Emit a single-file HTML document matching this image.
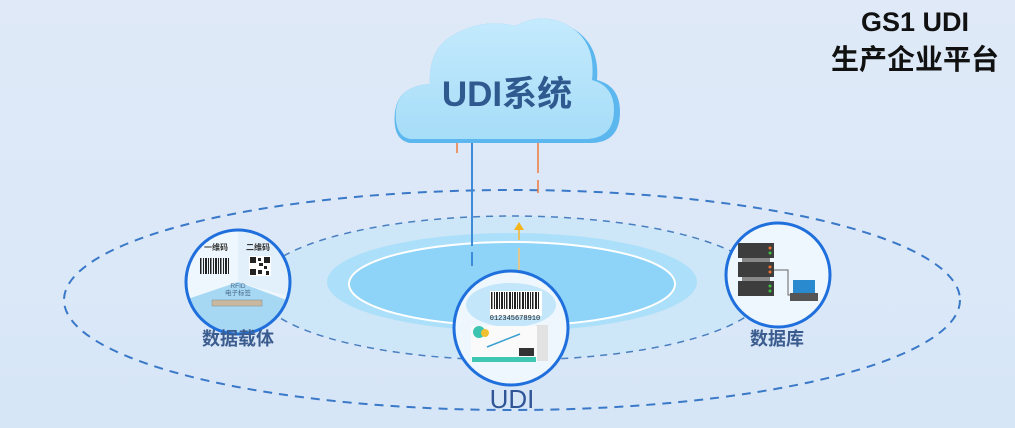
<!DOCTYPE html>
<html><head><meta charset="utf-8"><style>
html,body{margin:0;padding:0;}
body{width:1015px;height:428px;overflow:hidden;background:linear-gradient(180deg,#dfe9f8 0%,#dbe8f8 60%,#d6e6f7 100%);font-family:"Liberation Sans","Noto Sans CJK SC",sans-serif;}
</style></head><body>
<svg width="1015" height="428" viewBox="0 0 1015 428" xmlns="http://www.w3.org/2000/svg" style="position:absolute;left:0;top:0">
<defs>
<linearGradient id="cl" x1="0" y1="0" x2="0" y2="1"><stop offset="0" stop-color="#c4eafd"/><stop offset="1" stop-color="#a6ddf8"/></linearGradient>
<clipPath id="lc"><circle cx="238" cy="282" r="51"/></clipPath>
</defs>
<ellipse cx="512" cy="300" rx="448" ry="110" fill="none" stroke="#3a78c8" stroke-width="2" stroke-dasharray="9,7"/>
<ellipse cx="512" cy="288" rx="255" ry="72" fill="#cde6f8" stroke="#4a7fc0" stroke-width="1.5" stroke-dasharray="7,6"/>
<ellipse cx="512" cy="282" rx="185" ry="49" fill="#ace0fa"/>
<ellipse cx="512" cy="284" rx="163" ry="42" fill="#8ed3f8" stroke="#ffffff" stroke-width="2"/>
<g>
<path d="M410 143 Q392 140 395 112 Q398 86 430 84 Q428 48 455 34 Q485 18 515 26 Q545 10 572 28 Q600 44 597 80 Q620 86 620 112 Q620 142 592 143 Z" fill="#5cb7ee"/>
<path d="M410 139 Q394 136 396 110 Q399 86 430 84 Q428 48 455 34 Q485 18 515 26 Q545 10 572 28 Q596 44 592 80 Q614 86 614 110 Q614 137 588 139 Z" fill="url(#cl)"/>
<text x="507" y="106" text-anchor="middle" font-size="35" font-weight="bold" fill="#2f5a8f">UDI系统</text>
</g>
<line x1="472" y1="143" x2="472" y2="246" stroke="#3d8ad8" stroke-width="2"/>
<line x1="472" y1="252" x2="472" y2="266" stroke="#3d8ad8" stroke-width="2"/>
<line x1="457" y1="143" x2="457" y2="153" stroke="#f07a3a" stroke-width="1.5"/>
<line x1="538" y1="143" x2="538" y2="173" stroke="#f07a3a" stroke-width="1.5"/>
<line x1="538" y1="180" x2="538" y2="193" stroke="#f07a3a" stroke-width="1.5"/>
<polygon points="519,222 514,230 524,230" fill="#f4b51c"/>
<line x1="519" y1="230" x2="519" y2="240" stroke="#e8c060" stroke-width="2"/>
<line x1="519" y1="248" x2="519" y2="272" stroke="#e0c890" stroke-width="2"/>
<!-- left circle -->
<g>
<circle cx="238" cy="282" r="52" fill="#eef7fe"/>
<g clip-path="url(#lc)">
<polygon points="238,282 238,220 300,220 300,300" fill="#e2f0fb"/>
<polygon points="238,282 170,305 170,340 300,340 300,305" fill="#a6d8f4"/>
</g>
<text x="216" y="250" text-anchor="middle" font-size="8" font-weight="bold" fill="#333">一维码</text>
<text x="258" y="250" text-anchor="middle" font-size="8" font-weight="bold" fill="#333">二维码</text>
<g fill="#222">
<rect x="200" y="258" width="1.5" height="16"/><rect x="203" y="258" width="1" height="16"/><rect x="205" y="258" width="2" height="16"/><rect x="208" y="258" width="1" height="16"/><rect x="210" y="258" width="1.5" height="16"/><rect x="213" y="258" width="1" height="16"/><rect x="215" y="258" width="2" height="16"/><rect x="218" y="258" width="1" height="16"/><rect x="220" y="258" width="1.5" height="16"/><rect x="223" y="258" width="1" height="16"/><rect x="225" y="258" width="2" height="16"/><rect x="228" y="258" width="1" height="16"/>
<rect x="249" y="256" width="22" height="20" fill="#fff"/>
<rect x="250" y="257" width="6" height="6"/><rect x="264" y="257" width="6" height="6"/><rect x="250" y="269" width="6" height="6"/>
<rect x="258" y="258" width="3" height="3"/><rect x="259" y="263" width="4" height="3"/><rect x="264" y="266" width="3" height="3"/><rect x="258" y="270" width="4" height="4"/><rect x="266" y="271" width="3" height="4"/>
</g>
<text x="238" y="288" text-anchor="middle" font-size="6.5" fill="#4a6a8a">RFID</text>
<text x="238" y="295" text-anchor="middle" font-size="6.5" fill="#4a6a8a">电子标签</text>
<rect x="212" y="300" width="50" height="6" fill="#c8b8a0" stroke="#888" stroke-width="0.5"/>
<circle cx="238" cy="282" r="52" fill="none" stroke="#1f6fdc" stroke-width="3"/>
<text x="238" y="345" text-anchor="middle" font-size="18" font-weight="bold" fill="#3b5c8e">数据载体</text>
</g>
<!-- right circle -->
<g>
<circle cx="778" cy="275" r="52" fill="#eef7fe"/>
<rect x="738" y="243" width="36" height="15" fill="#3d3d3d"/>
<rect x="738" y="262" width="36" height="15" fill="#3d3d3d"/>
<rect x="738" y="281" width="36" height="15" fill="#3d3d3d"/>
<rect x="742" y="258" width="28" height="4" fill="#888"/><rect x="742" y="277" width="28" height="4" fill="#888"/>
<circle cx="770" cy="248" r="1.5" fill="#f07030"/><circle cx="770" cy="253" r="1.5" fill="#40c040"/>
<circle cx="770" cy="267" r="1.5" fill="#f07030"/><circle cx="770" cy="272" r="1.5" fill="#f07030"/>
<circle cx="770" cy="286" r="1.5" fill="#40c040"/><circle cx="770" cy="291" r="1.5" fill="#40c040"/>
<polyline points="774,270 788,270 788,295 792,295" fill="none" stroke="#666" stroke-width="1"/>
<rect x="793" y="280" width="22" height="13" fill="#2a8ad0"/>
<rect x="790" y="293" width="28" height="8" fill="#555"/>
<circle cx="778" cy="275" r="52" fill="none" stroke="#1f6fdc" stroke-width="3"/>
<text x="777" y="345" text-anchor="middle" font-size="18" font-weight="bold" fill="#3b5c8e">数据库</text>
</g>
<!-- UDI circle -->
<g>
<circle cx="511" cy="328" r="57" fill="#eef7fe"/>
<ellipse cx="511" cy="305" rx="45" ry="22" fill="#c3e6fa"/>
<rect x="490" y="291" width="52" height="25" fill="#fff"/>
<g fill="#222">
<rect x="491" y="292" width="1.5" height="17"/><rect x="494" y="292" width="1" height="17"/><rect x="496" y="292" width="2" height="17"/><rect x="499" y="292" width="1" height="17"/><rect x="501" y="292" width="2" height="17"/><rect x="504" y="292" width="1" height="17"/><rect x="506" y="292" width="1.5" height="17"/><rect x="509" y="292" width="2" height="17"/><rect x="512" y="292" width="1" height="17"/><rect x="514" y="292" width="2" height="17"/><rect x="517" y="292" width="1" height="17"/><rect x="519" y="292" width="1.5" height="17"/><rect x="522" y="292" width="2" height="17"/><rect x="525" y="292" width="1" height="17"/><rect x="527" y="292" width="2" height="17"/><rect x="530" y="292" width="1" height="17"/><rect x="532" y="292" width="1.5" height="17"/><rect x="535" y="292" width="2" height="17"/><rect x="538" y="292" width="1" height="17"/>
</g>
<text x="515" y="320" text-anchor="middle" font-size="7" fill="#222" font-family="Liberation Mono,monospace">012345678910</text>
<rect x="536" y="325" width="12" height="36" fill="#e2e2e2"/>
<rect x="471" y="326" width="66" height="36" fill="#fafafa"/>
<circle cx="479" cy="332" r="6" fill="#3cc4b0"/><circle cx="485" cy="333" r="4" fill="#f0c030"/>
<line x1="487" y1="347" x2="520" y2="334" stroke="#3aa0d0" stroke-width="1.5"/>
<rect x="519" y="348" width="15" height="8" fill="#333"/>
<rect x="472" y="357" width="64" height="5" fill="#3ec8b4"/>
<circle cx="511" cy="328" r="57" fill="none" stroke="#1f6fdc" stroke-width="3"/>
</g>
<text x="512" y="408" text-anchor="middle" font-size="26" fill="#2f5597">UDI</text>
<text x="915" y="31" text-anchor="middle" font-size="27" font-weight="bold" fill="#111">GS1 UDI</text>
<text x="915" y="69" text-anchor="middle" font-size="28" font-weight="bold" fill="#111">生产企业平台</text>
</svg>
</body></html>
